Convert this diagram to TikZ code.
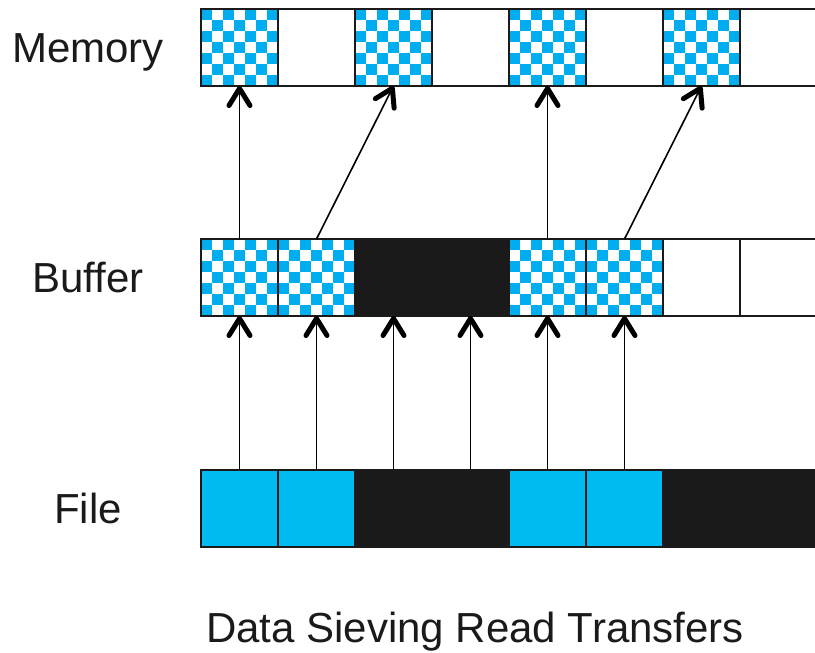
\documentclass[tikz,border=0pt]{standalone}
\usepackage{fontspec}
\setmainfont{Liberation Sans}
\usetikzlibrary{arrows.meta}
\definecolor{chk}{HTML}{00AEEF}
\definecolor{fblue}{HTML}{00BBF0}
\definecolor{dark}{HTML}{1A1A1A}
\tikzset{
  cell/.style={draw=dark, line width=2pt, minimum width=77pt, minimum height=77pt, inner sep=0pt, outer sep=0pt, anchor=north west},
  emptycell/.style={cell, fill=white},
  blackcell/.style={cell, fill=dark},
  bluecell/.style={cell, fill=fblue},
  checkcell/.style={cell, path picture={
    \foreach \i in {0,...,6}{\foreach \j in {0,...,6}{
      \pgfmathtruncatemacro{\chkpar}{mod(\i+\j,2)}
      \ifnum\chkpar=0
        \fill[chk] (path picture bounding box.north west) ++(\i*11,\j*11) rectangle +(11,11);
      \fi}}}},
  lbl/.style={font=\fontsize{42}{50}\selectfont, text=dark, anchor=base, inner sep=0pt},
  conn/.style={draw=black, line width=1.6pt, -{Straight Barb[length=17pt,width=21pt,line width=5pt,round]}}
}
\begin{document}
\begin{tikzpicture}[x=1pt,y=-1pt]
\useasboundingbox (0,0) rectangle (815,653);
\clip (0,0) rectangle (815,653);
% Memory row
\node[checkcell] (m0) at (201,9) {};
\node[emptycell] (m1) at (278,9) {};
\node[checkcell] (m2) at (355,9) {};
\node[emptycell] (m3) at (432,9) {};
\node[checkcell] (m4) at (509,9) {};
\node[emptycell] (m5) at (586,9) {};
\node[checkcell] (m6) at (663,9) {};
\node[emptycell] (m7) at (740,9) {};
% Buffer row
\node[checkcell] (b0) at (201,239) {};
\node[checkcell] (b1) at (278,239) {};
\node[blackcell] (b2) at (355,239) {};
\node[blackcell] (b3) at (432,239) {};
\node[checkcell] (b4) at (509,239) {};
\node[checkcell] (b5) at (586,239) {};
\node[emptycell] (b6) at (663,239) {};
\node[emptycell] (b7) at (740,239) {};
% File row
\node[bluecell] (f0) at (201,470) {};
\node[bluecell] (f1) at (278,470) {};
\node[blackcell] (f2) at (355,470) {};
\node[blackcell] (f3) at (432,470) {};
\node[bluecell] (f4) at (509,470) {};
\node[bluecell] (f5) at (586,470) {};
\node[blackcell] (f6) at (663,470) {};
\node[blackcell] (f7) at (740,470) {};
% Labels
\node[lbl] (lm) at (88,62) {Memory};
\node[lbl] (lb) at (88,292) {Buffer};
\node[lbl] (lf) at (88,523) {File};
\node[lbl] (title) at (475,642) {Data Sieving Read Transfers};
% File -> Buffer
\foreach \k in {0,...,5}{\draw[conn] (f\k.north) -- (b\k.south);}
% Buffer -> Memory
\draw[conn] (b0.north) -- (m0.south);
\draw[conn] (b1.north) -- (m2.south);
\draw[conn] (b4.north) -- (m4.south);
\draw[conn] (b5.north) -- (m6.south);
\end{tikzpicture}
\end{document}
